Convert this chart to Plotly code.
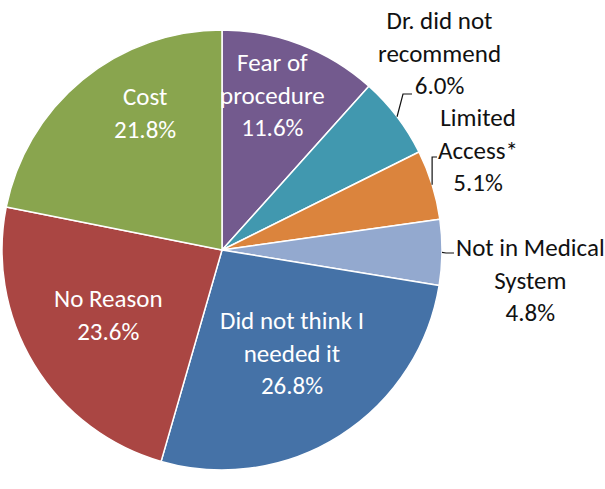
import math
import plotly.graph_objects as go

# ---- data ----
labels = ["Fear of procedure", "Dr. did not recommend", "Limited Access*",
          "Not in Medical System", "Did not think I needed it", "No Reason", "Cost"]
label_text = ["Fear of<br>procedure", "Dr. did not<br>recommend", "Limited<br>Access*",
              "Not in Medical<br>System", "Did not think I<br>needed it", "No Reason", "Cost"]
values = [11.6, 6.0, 5.1, 4.8, 26.8, 23.6, 21.8]
colors = ["#735A8E", "#4198AF", "#DB843D", "#93A9CF", "#4572A7", "#AA4643", "#89A54E"]

# ---- layout (pixels) ----
W, H = 605, 489
CX, CY, R = 222, 250, 220
# label block centres (pixels) and whether inside
label_pos = [(272, 95), (439, 53), (478, 150), (530, 280), (292, 353), (108, 315), (145, 113)]
inside = [True, False, False, False, True, True, True]
# leader elbows / ends for outside labels (pixels)
leader = {1: [(403, 94), (412, 94)], 2: [(None, 157), (437, 157)], 3: [(446, 253), (454, 253)]}

def px(x):
    return x / W

def py(y):
    return 1 - y / H

fig = go.Figure(go.Pie(
    labels=labels, values=values, sort=False, direction="clockwise", rotation=0,
    marker=dict(colors=colors, line=dict(color="white", width=1.5)),
    textinfo="none", hoverinfo="label+percent",
    domain=dict(x=[px(CX - R), px(CX + R)], y=[py(CY + R), py(CY - R)]),
    showlegend=False,
))

font_family = "Carlito, Lato, sans-serif"
total = sum(values)
cum = 0
shapes = []
annotations = []
for i, v in enumerate(values):
    mid = 2 * math.pi * (cum + v / 2) / total
    cum += v
    lx, ly = label_pos[i]
    txt = f"{label_text[i]}<br>{v:.1f}%"
    annotations.append(dict(
        x=px(lx), y=py(ly), xref="paper", yref="paper", text=txt, showarrow=False,
        xanchor="center", yanchor="middle", align="center",
        font=dict(family=font_family, size=25, color="white" if inside[i] else "#111111"),
    ))
    if not inside[i]:
        ex = CX + R * math.sin(mid)
        ey = CY - R * math.cos(mid)
        pts = [(ex, ey)]
        for (qx, qy) in leader[i]:
            pts.append((ex if qx is None else qx, qy))
        path = "M " + " L ".join(f"{px(a)},{py(b)}" for a, b in pts)
        shapes.append(dict(type="path", path=path, xref="paper", yref="paper",
                           line=dict(color="#111111", width=1.2)))

fig.update_layout(
    width=W, height=H, margin=dict(l=0, r=0, t=0, b=0),
    paper_bgcolor="white", plot_bgcolor="white",
    annotations=annotations, shapes=shapes,
)
fig.write_html("out.html", config={"displayModeBar": False},
               post_script="document.body.style.margin='0';document.body.style.padding='0';")
